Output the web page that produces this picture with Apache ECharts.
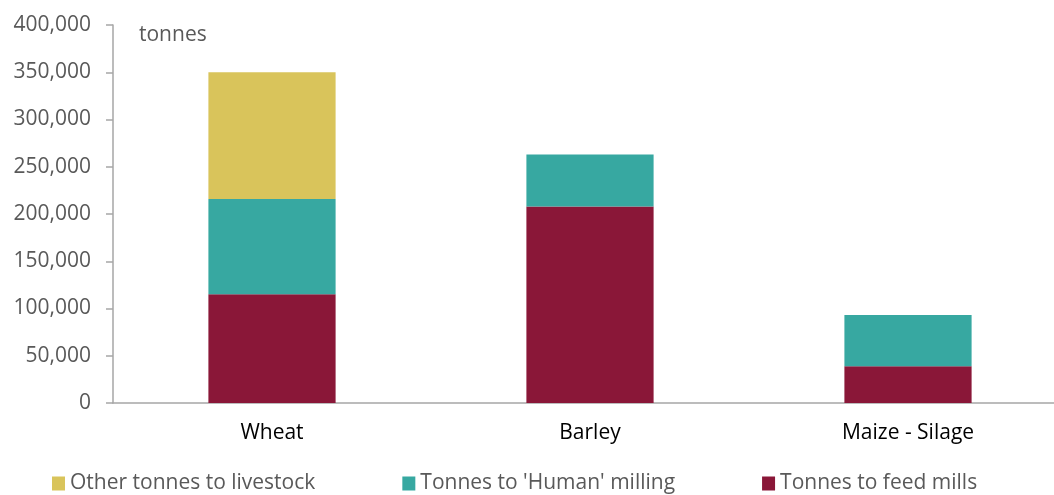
<!DOCTYPE html>
<html>
<head>
<meta charset="utf-8">
<script src="https://cdn.jsdelivr.net/npm/echarts@6/dist/echarts.min.js"></script>
<style>
  html, body { margin: 0; padding: 0; background: #ffffff; overflow: hidden; }
  #chart { width: 1067px; height: 495px; }
</style>
</head>
<body>
<div id="chart"></div>
<script>
// Crop usage by destination (tonnes)
const categories = ['Wheat', 'Barley', 'Maize - Silage'];
const feedMills = [115000, 208000, 39000];
const humanMilling = [101000, 55000, 54000];
const otherLivestock = [134000, 0, 0];
const yTicks = [0, 50000, 100000, 150000, 200000, 250000, 300000, 350000, 400000];

const textColor = '#595959';
const fontFamily = '"Open Sans", "Liberation Sans", sans-serif';

const chart = echarts.init(document.getElementById('chart'), null, { renderer: 'canvas' });

chart.setOption({
  animation: false,
  backgroundColor: '#ffffff',
  textStyle: { fontFamily: fontFamily, color: textColor },
  grid: { left: 113, top: 25, right: 0, height: 378, containLabel: false },
  legend: {
    left: 52,
    top: 473,
    padding: 0,
    itemWidth: 13,
    itemHeight: 14,
    itemGap: 87,
    icon: 'rect',
    textStyle: { fontSize: 21, color: textColor, fontFamily: fontFamily, padding: [0, 0, 0, 0] },
    data: ['Other tonnes to livestock', "Tonnes to 'Human' milling", 'Tonnes to feed mills']
  },
  graphic: [{
    type: 'text',
    left: 139,
    top: 25,
    style: { text: 'tonnes', fontSize: 21, fill: textColor, fontFamily: fontFamily }
  }],
  xAxis: {
    type: 'category',
    data: categories,
    axisLine: { lineStyle: { color: '#a6a6a6', width: 1.5 } },
    axisTick: { show: false },
    axisLabel: { fontSize: 21, color: '#000000', margin: 20, fontFamily: fontFamily }
  },
  yAxis: {
    type: 'value',
    min: yTicks[0],
    max: yTicks[yTicks.length - 1],
    interval: yTicks[1] - yTicks[0],
    axisLine: { show: true, lineStyle: { color: '#a6a6a6', width: 1.5 } },
    axisTick: { show: true, length: 7, lineStyle: { color: '#a6a6a6', width: 1.5 } },
    splitLine: { show: false },
    axisLabel: {
      fontSize: 21,
      color: textColor,
      margin: 22,
      fontFamily: fontFamily,
      formatter: v => v.toLocaleString('en-US')
    }
  },
  series: [
    {
      name: 'Tonnes to feed mills',
      type: 'bar',
      stack: 'total',
      barWidth: '40%',
      itemStyle: { color: '#8a1738' },
      data: feedMills
    },
    {
      name: "Tonnes to 'Human' milling",
      type: 'bar',
      stack: 'total',
      itemStyle: { color: '#37a8a1' },
      data: humanMilling
    },
    {
      name: 'Other tonnes to livestock',
      type: 'bar',
      stack: 'total',
      itemStyle: { color: '#d9c45b' },
      data: otherLivestock
    }
  ]
});
</script>
</body>
</html>
